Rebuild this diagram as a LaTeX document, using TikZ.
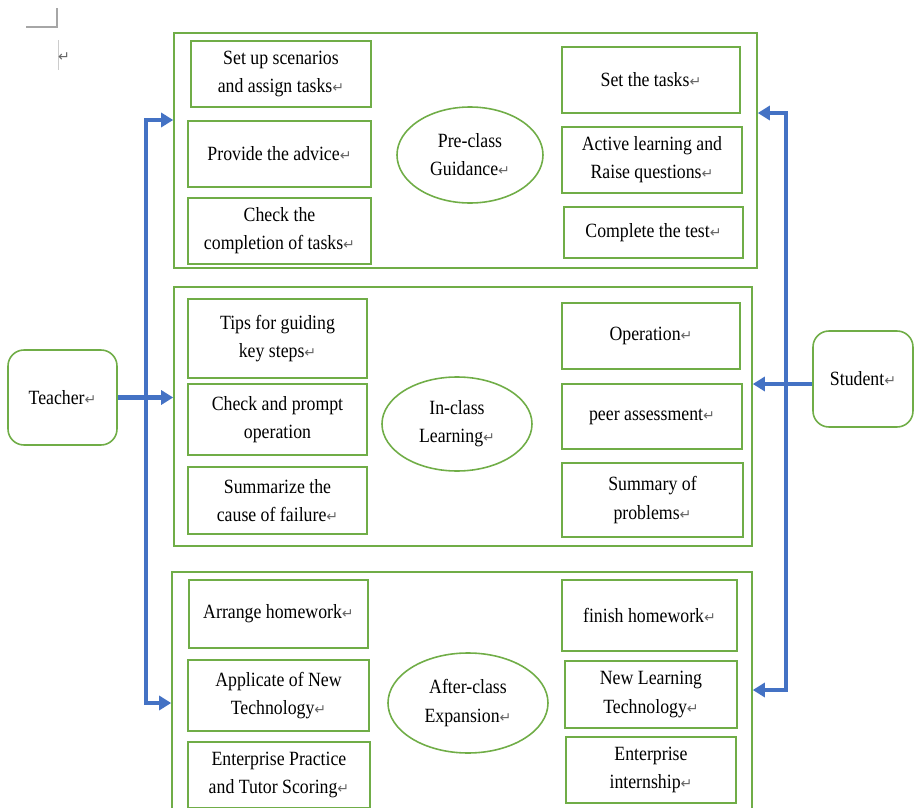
\documentclass[tikz,border=0pt]{standalone}
\usepackage{fontspec}
\setmainfont{Liberation Serif}[FakeStretch=0.88]
\newfontfamily\retfont{DejaVu Sans}
\usetikzlibrary{shapes,arrows.meta,positioning,calc}
\definecolor{framegreen}{RGB}{112,173,71}
\definecolor{flowblue}{RGB}{68,114,196}
\newcommand{\retmark}{{\retfont\fontsize{8}{8}\selectfont\color{black!60}↵}}
\tikzset{
    stageframe/.style 2 args={
        rectangle,
        draw=framegreen,
        line width=0.9pt,
        minimum width=#1*0.02cm,
        minimum height=#2*0.02cm
    },
    taskbox/.style 2 args={
        stageframe={#1}{#2},
        inner sep=0pt,
        align=center,
        font=\fontsize{11.5}{16}\selectfont
    },
    stagenode/.style 2 args={
        ellipse,
        draw=framegreen,
        line width=0.9pt,
        inner sep=0pt,
        minimum width=#1*0.02cm,
        minimum height=#2*0.02cm,
        align=center,
        font=\fontsize{11.5}{16}\selectfont
    },
    rolebox/.style 2 args={
        taskbox={#1}{#2},
        rounded corners=0.32cm
    },
    flow/.style={
        draw=flowblue,
        line width=2.4pt,
        >={Triangle[length=0.24cm,width=0.28cm]}
    }
}

\begin{document}
\begin{tikzpicture}[x=0.02cm,y=-0.02cm]
    \useasboundingbox (0,0) rectangle (914,808);

    % Page corner marks
    \draw[black!35, line width=0.6pt] (26,27) -- (57,27) -- (57,8);
    \draw[black!20, line width=0.5pt] (58,40) -- (58,70);
    \node[inner sep=0pt] (parmark) at (64,57) {\retmark};

    % Stage frames
    \node[stageframe={583}{235}] (preframe) at (465.5,150.5) {};
    \node[stageframe={578}{259}] (inframe) at (463,416.5) {};
    \node[stageframe={580}{260}] (afterframe) at (462,702) {};

    % Pre-class
    \node[taskbox={180}{66}] (setup) at (281,74) {Set up scenarios\\and assign tasks\retmark};
    \node[taskbox={183}{66}] (advice) at (279.5,154) {Provide the advice\retmark};
    \node[taskbox={183}{66}] (checktask) at (279.5,231) {Check the\\completion of tasks\retmark};
    \node[stagenode={146}{96}] (pre) at (470,155) {Pre-class\\Guidance\retmark};
    \node[taskbox={178}{66}] (settask) at (651,80) {Set the tasks\retmark};
    \node[taskbox={180}{66}] (active) at (652,160) {Active learning and\\Raise questions\retmark};
    \node[taskbox={179}{51}] (test) at (653.5,232.5) {Complete the test\retmark};

    % In-class
    \node[taskbox={179}{79}] (tips) at (277.5,338.5) {Tips for guiding\\key steps\retmark};
    \node[taskbox={179}{71}] (prompt) at (277.5,419.5) {Check and prompt\\operation};
    \node[taskbox={179}{67}] (failure) at (277.5,500.5) {Summarize the\\cause of failure\retmark};
    \node[stagenode={150}{94}] (inclass) at (457,424) {In-class\\Learning\retmark};
    \node[taskbox={178}{66}] (operation) at (651,336) {Operation\retmark};
    \node[taskbox={180}{65}] (peer) at (652,416.5) {peer assessment\retmark};
    \node[taskbox={181}{74}] (problems) at (652.5,500) {Summary of\\problems\retmark};

    % After-class
    \node[taskbox={179}{68}] (arrange) at (278.5,614) {Arrange homework\retmark};
    \node[taskbox={181}{71}] (applicate) at (278.5,695.5) {Applicate of New\\Technology\retmark};
    \node[taskbox={182}{66}] (practice) at (279,775) {Enterprise Practice\\and Tutor Scoring\retmark};
    \node[stagenode={160}{100}] (after) at (468,703) {After-class\\Expansion\retmark};
    \node[taskbox={175}{71}] (finish) at (649.5,615.5) {finish homework\retmark};
    \node[taskbox={172}{67}] (newtech) at (651,694.5) {New Learning\\Technology\retmark};
    \node[taskbox={170}{66}] (internship) at (651,770) {Enterprise\\internship\retmark};

    % Roles
    \node[rolebox={109}{95}] (teacher) at (62.5,397.5) {Teacher\retmark};
    \node[rolebox={100}{96}] (student) at (863,379) {Student\retmark};

    % Teacher links
    \coordinate (ttop) at (146,120);
    \coordinate (tbot) at (146,703);
    \draw[flow,<->] (ttop -| preframe.west) -- (ttop) -- (tbot) -- (tbot -| afterframe.west);
    \draw[flow,->] (teacher.east) -- (teacher.east -| inframe.west);

    % Student links
    \coordinate (stop) at (786,113);
    \coordinate (sbot) at (786,690);
    \coordinate (smid) at ($(student.west)+(0,5)$);
    \draw[flow,<->] (stop -| preframe.east) -- (stop) -- (sbot) -- (sbot -| afterframe.east);
    \draw[flow,->] (smid) -- (smid -| inframe.east);
\end{tikzpicture}
\end{document}
